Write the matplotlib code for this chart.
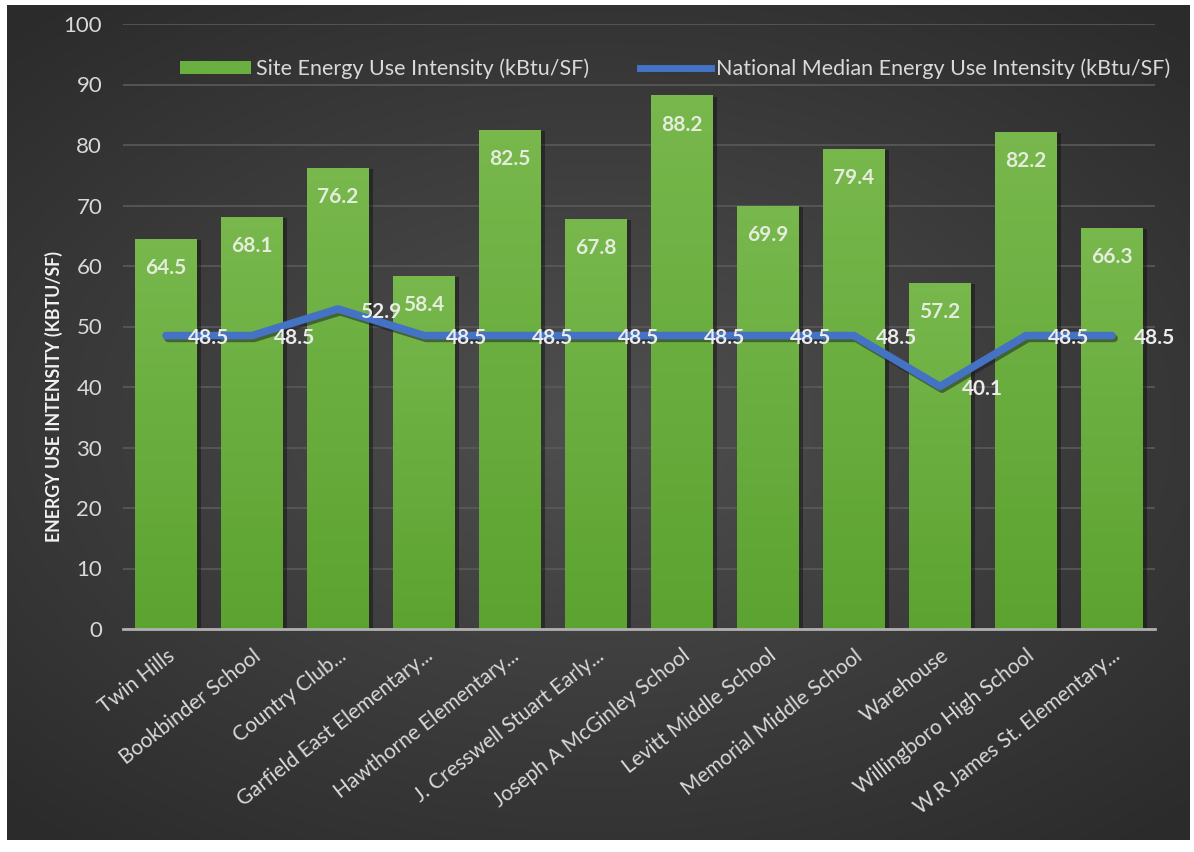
import numpy as np
import matplotlib.pyplot as plt
import matplotlib.patheffects as pe
from matplotlib.patches import Patch
from matplotlib.lines import Line2D

schools = ['Twin Hills', 'Bookbinder School', 'Country Club...', 'Garfield East Elementary...',
           'Hawthorne Elementary...', 'J. Cresswell Stuart Early...', 'Joseph A McGinley School',
           'Levitt Middle School', 'Memorial Middle School', 'Warehouse',
           'Willingboro High School', 'W.R James St. Elementary...']
site_eui = [64.5, 68.1, 76.2, 58.4, 82.5, 67.8, 88.2, 69.9, 79.4, 57.2, 82.2, 66.3]
national_eui = [48.5, 48.5, 52.9, 48.5, 48.5, 48.5, 48.5, 48.5, 48.5, 40.1, 48.5, 48.5]

plt.rcParams['font.family'] = ['Lato', 'DejaVu Sans']

W, H = 1194, 852
fig = plt.figure(figsize=(W / 100, H / 100), dpi=100, facecolor='white')

# dark radial background
bg = fig.add_axes([7 / W, 12 / H, (1190 - 7) / W, (847 - 12) / H])
bg.set_axis_off()
yy, xx = np.mgrid[-1:1:300j, -1:1:400j]
r = np.sqrt((xx * 0.9) ** 2 + (yy * 1.0) ** 2)
c = 0.31 - 0.14 * np.clip(r / 1.3, 0, 1)
bg.imshow(np.dstack([c, c, c]), aspect='auto', extent=[0, 1, 0, 1], zorder=0)

ax = fig.add_axes([123 / W, 1 - 629 / H, (1155 - 123) / W, (629 - 24) / H])
ax.set_facecolor('none')

x = np.arange(len(schools))
bars = ax.bar(x, site_eui, width=0.72, color='#66aa3c', zorder=3,
              path_effects=[pe.SimplePatchShadow(offset=(3, -1), shadow_rgbFace='#141414', alpha=0.5),
                            pe.Normal()])

# vertical gradient on bars
grad = np.linspace(0, 1, 100).reshape(-1, 1)
top_c = np.array([0.47, 0.72, 0.30])
bot_c = np.array([0.36, 0.64, 0.19])
gimg = grad[..., None] * top_c + (1 - grad[..., None]) * bot_c
for b in bars:
    im = ax.imshow(gimg, extent=[b.get_x(), b.get_x() + b.get_width(), 0, b.get_height()],
                   origin='lower', aspect='auto', zorder=3.5)
    im.set_clip_path(b)

ax.set_xlim(-0.5, len(schools) - 0.5)
ax.set_ylim(0, 100)

ax.plot(x, national_eui, color='#4472c4', lw=5.5, solid_capstyle='round',
        solid_joinstyle='round', zorder=5,
        path_effects=[pe.SimpleLineShadow(offset=(1.5, -2), shadow_color='#1a1a1a', alpha=0.5),
                      pe.Normal()])

for xi, v in zip(x, site_eui):
    ax.annotate(f'{v}', (xi, v), xytext=(0, -21), textcoords='offset points',
                ha='center', va='center', fontsize=15, fontweight='bold',
                color='#e4ecdc', zorder=6)
for xi, v in zip(x, national_eui):
    ax.annotate(f'{v}', (xi, v), xytext=(16, -2), textcoords='offset points',
                ha='left', va='center', fontsize=15, fontweight='bold',
                color='#ebebeb', zorder=7)

ax.set_yticks(np.arange(0, 101, 10))
ax.yaxis.grid(True, color='#5a5a5a', lw=1.2, zorder=1)
ax.set_axisbelow(True)
for s in ['top', 'right', 'left']:
    ax.spines[s].set_visible(False)
ax.spines['bottom'].set_color('#b0b0b0')
ax.spines['bottom'].set_linewidth(2)
ax.spines['bottom'].set_zorder(6)
ax.tick_params(axis='y', length=0, pad=15, labelsize=16, labelcolor='#d9d9d9')
ax.tick_params(axis='x', length=0, pad=12, labelsize=15, labelcolor='#d9d9d9')
ax.set_xticks(x)
ax.set_xticklabels(schools, rotation=38, ha='right', rotation_mode='anchor')

ax.set_ylabel('ENERGY USE INTENSITY (KBTU/SF)', fontsize=12.8, fontweight='bold',
              color='#f2f2f2')
ax.yaxis.set_label_coords(-0.058, 0.385)

handles = [Patch(facecolor='#6ab041', edgecolor='none'),
           Line2D([0], [0], color='#4472c4', lw=5)]
ax.legend(handles, ['Site Energy Use Intensity (kBtu/SF)',
                    'National Median Energy Use Intensity (kBtu/SF)'],
          loc='upper center', bbox_to_anchor=(0.535, 0.975), ncol=2, frameon=False,
          fontsize=15.5, labelcolor='#d9d9d9', handlelength=3.3, handleheight=0.55,
          columnspacing=2.4, handletextpad=0.2)

fig.savefig('out.png', dpi=100, facecolor='white')
